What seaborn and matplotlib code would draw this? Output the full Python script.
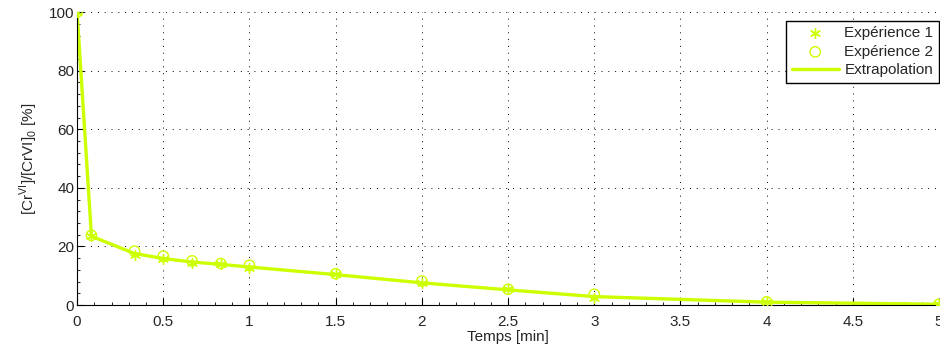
import numpy as np
import pandas as pd
import matplotlib
matplotlib.use("Agg")
import matplotlib.pyplot as plt
from matplotlib.ticker import AutoMinorLocator
import seaborn as sns

# Time points [min]
temps = [0, 1/12, 1/3, 0.5, 2/3, 5/6, 1, 1.5, 2, 2.5, 3, 4, 5]
# Remaining Cr(VI) fraction [%]
experience_1 = [100, 23.5, 17.1, 15.7, 14.4, 14.0, 12.7, 10.6, 7.4, 5.4, 2.5, 1.0, 0.3]
experience_2 = [100, 23.8, 18.4, 16.7, 15.1, 14.2, 13.6, 10.7, 8.2, 5.4, 3.7, 1.1, 0.3]
extrapolation = [100, 23.5, 17.6, 15.9, 14.7, 13.9, 13.0, 10.4, 7.6, 5.2, 2.9, 1.0, 0.3]
xtick_labels = ["0", "0.5", "1", "1.5", "2", "2.5", "3", "3.5", "4", "4.5", "5"]

colour = "#ccff00"
fs = 11

sns.set_theme(style="white")
plt.rcParams["font.family"] = ["Liberation Sans", "DejaVu Sans"]
plt.rcParams["mathtext.fontset"] = "custom"
plt.rcParams["mathtext.rm"] = "Liberation Sans"

df = pd.DataFrame({"t": temps, "e1": experience_1, "e2": experience_2, "ex": extrapolation})

fig = plt.figure(figsize=(9.4, 3.56), dpi=100)
ax = fig.add_axes([0.082, 0.143, 0.917, 0.823])

sns.scatterplot(data=df, x="t", y="e1", marker=(6, 2, 0), s=50, color=colour,
                linewidth=1.0, edgecolor=colour, ax=ax, label="Expérience 1", zorder=3)
sns.scatterplot(data=df, x="t", y="e2", marker="o", s=55, facecolor="none",
                edgecolor=colour, linewidth=1.0, ax=ax, label="Expérience 2", zorder=3)
sns.lineplot(data=df, x="t", y="ex", color=colour, linewidth=2.4, ax=ax,
             label="Extrapolation", zorder=2)

ax.set_xlim(0, 5)
ax.set_ylim(0, 100)
ax.set_xticks(np.arange(0, 5.01, 0.5))
ax.set_xticklabels(xtick_labels)
ax.set_yticks([0, 20, 40, 60, 80, 100])
ax.xaxis.set_minor_locator(AutoMinorLocator(5))
ax.yaxis.set_minor_locator(AutoMinorLocator(5))
ax.tick_params(which="major", direction="in", length=5, width=0.8, color="black",
               labelsize=fs, bottom=True, left=True)
ax.tick_params(axis="x", which="major", pad=7)
ax.tick_params(axis="y", which="major", pad=2)
ax.tick_params(which="minor", direction="in", length=2.5, width=0.6, color="black",
               bottom=True, left=True)

ax.grid(True, which="major", linestyle=(0, (1, 6)), color="black", linewidth=0.7)
for side in ("top", "right"):
    ax.spines[side].set_visible(False)
for side in ("left", "bottom"):
    ax.spines[side].set_color("black")
    ax.spines[side].set_linewidth(0.8)

ax.set_xlabel("Temps [min]", fontsize=fs, labelpad=1)
ax.set_ylabel(r"[Cr$^{\mathrm{VI}}$]/[CrVI]$_{0}$ [%]", fontsize=fs, labelpad=6)

leg = ax.legend(loc="upper right", bbox_to_anchor=(0.9995, 0.97), fontsize=fs,
                frameon=True, fancybox=False, borderpad=0.35, handlelength=3.1,
                labelspacing=0.3, handletextpad=0.35, borderaxespad=0)
leg.get_frame().set_edgecolor("black")
leg.get_frame().set_linewidth(1.0)
leg.get_frame().set_alpha(1)

fig.savefig("out.png", dpi=100)
